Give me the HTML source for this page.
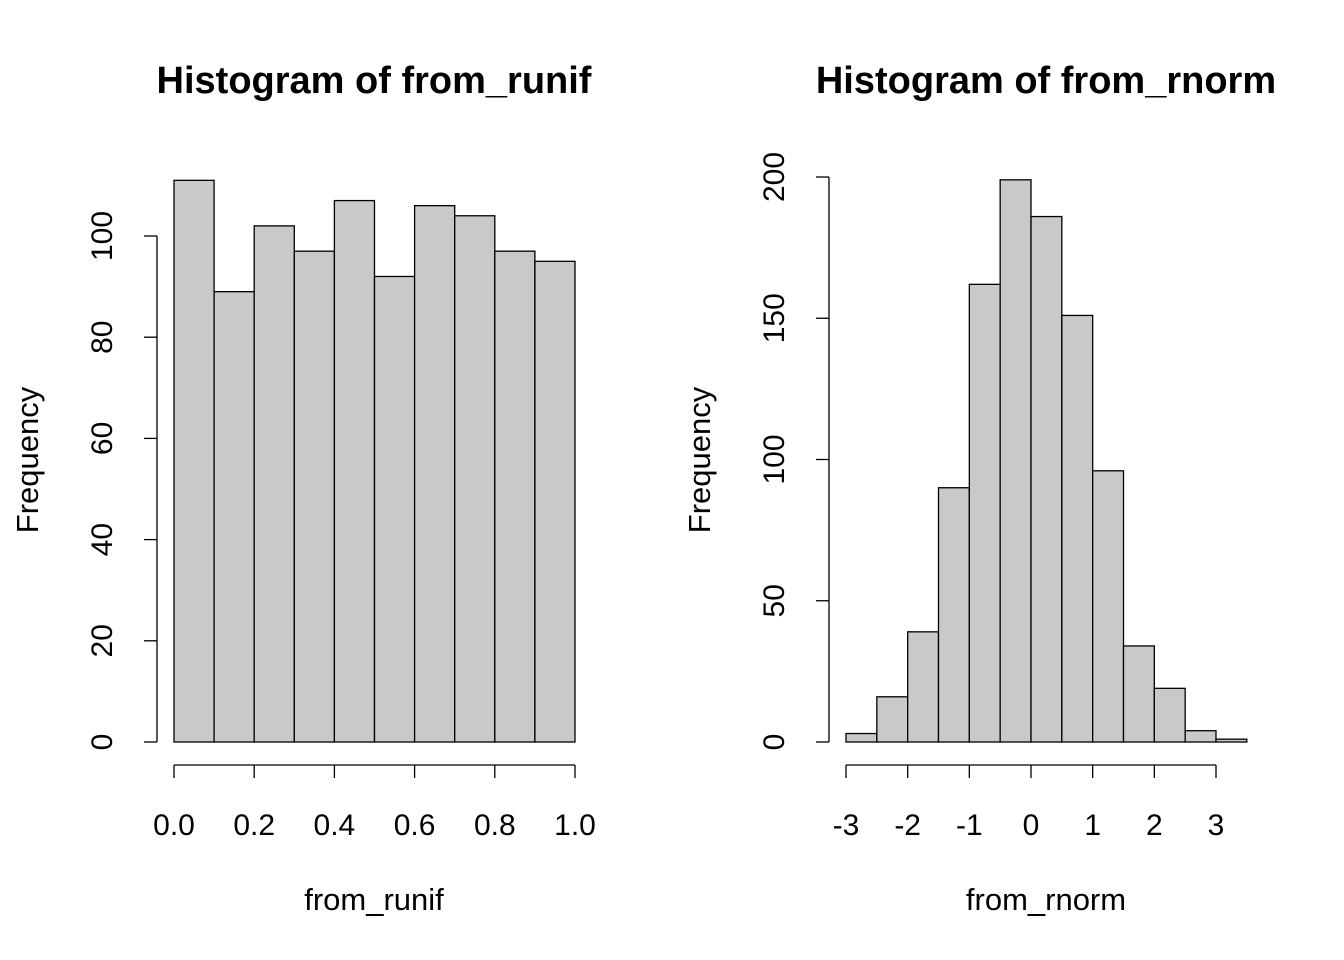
<!DOCTYPE html>
<html><head><meta charset="utf-8"><style>
html,body{margin:0;padding:0;background:#fff;}
svg{display:block;font-family:"Liberation Sans",Arial,sans-serif;}
</style></head><body>
<svg id="c" width="1344" height="960" viewBox="0 0 1344 960"></svg>
<script>
const unifCounts = [111, 89, 102, 97, 107, 92, 106, 104, 97, 95];
const unifBreaks = [0, 0.1, 0.2, 0.3, 0.4, 0.5, 0.6, 0.7, 0.8, 0.9, 1.0];
const unifXTicks = ["0.0","0.2","0.4","0.6","0.8","1.0"];
const unifYTicks = [0, 20, 40, 60, 80, 100];
const normCounts = [3, 16, 39, 90, 162, 199, 186, 151, 96, 34, 19, 4, 1];
const normBreaks = [-3, -2.5, -2, -1.5, -1, -0.5, 0, 0.5, 1, 1.5, 2, 2.5, 3, 3.5];
const normXTicks = ["-3","-2","-1","0","1","2","3"];
const normYTicks = [0, 50, 100, 150, 200];

const NS = "http://www.w3.org/2000/svg";
const svg = document.getElementById('c');
function mk(tag, attrs, parent){
  const e = document.createElementNS(NS, tag);
  for (const k in attrs) e.setAttribute(k, attrs[k]);
  (parent||svg).appendChild(e);
  return e;
}

function panel(cfg){
  const g = mk('g', {});
  
  
  const sx = v => cfg.x0 + (v - cfg.xmin) * (cfg.x1 - cfg.x0) / (cfg.xmax - cfg.xmin);
  const sy = v => cfg.y0 - v * (cfg.y0 - cfg.y1) / cfg.ymax;
  cfg.counts.forEach((c, i) => {
    const xa = sx(cfg.breaks[i]), xb = sx(cfg.breaks[i+1]);
    const r = mk('rect', {x: xa, y: sy(c), width: xb - xa, height: sy(0) - sy(c), fill: '#c9c9c9', stroke: '#000', 'stroke-width': 1.3}, g);
    
    
  });
  const yax = mk('g', {}, g);
  
  
  const ax = cfg.yAxisX;
  mk('line', {x1: ax, x2: ax, y1: sy(cfg.yTicks[0]), y2: sy(cfg.yTicks[cfg.yTicks.length-1]), stroke: '#000', 'stroke-width': 1.3}, yax);
  cfg.yTicks.forEach(t => {
    const y = sy(t);
    mk('line', {x1: ax - 13, x2: ax, y1: y, y2: y, stroke: '#000', 'stroke-width': 1.3}, yax);
    const tx = mk('text', {x: 0, y: 0, 'font-size': 30, 'text-anchor': 'middle', transform: `translate(${ax - 45},${y}) rotate(-90)`}, yax);
    tx.textContent = t;
    
    
  });
  const xax = mk('g', {}, g);
  
  
  const xv = cfg.xTicks.map(Number);
  const ay = 765;
  mk('line', {x1: sx(xv[0]), x2: sx(xv[xv.length-1]), y1: ay, y2: ay, stroke: '#000', 'stroke-width': 1.3}, xax);
  cfg.xTicks.forEach((t, i) => {
    const x = sx(xv[i]);
    mk('line', {x1: x, x2: x, y1: ay, y2: ay + 13, stroke: '#000', 'stroke-width': 1.3}, xax);
    const tx = mk('text', {x: x, y: 835, 'font-size': 30, 'text-anchor': 'middle'}, xax);
    tx.textContent = t;
    
    
  });
  const title = mk('text', {x: cfg.cx, y: 93, 'font-size': 38, 'font-weight': 'bold', 'text-anchor': 'middle'}, g);
  title.textContent = cfg.title;
  
  
  const xl = mk('text', {x: cfg.cx, y: 910, 'font-size': 31, 'text-anchor': 'middle'}, g);
  xl.textContent = cfg.xlab;
  
  
  const yl = mk('text', {x: 0, y: 0, 'font-size': 31, 'text-anchor': 'middle', transform: `translate(${cfg.ylabX},460) rotate(-90)`}, g);
  yl.textContent = 'Frequency';
  
  
}

panel({name:'runif-histogram', counts:unifCounts, breaks:unifBreaks, xTicks:unifXTicks, yTicks:unifYTicks,
  xmin:0, xmax:1, x0:174, x1:575, ymax:100, y0:742, y1:236, yAxisX:157,
  cx:374, title:'Histogram of from_runif', xlab:'from_runif', ylabX:38});
panel({name:'rnorm-histogram', counts:normCounts, breaks:normBreaks, xTicks:normXTicks, yTicks:normYTicks,
  xmin:-3, xmax:3, x0:846, x1:1216, ymax:200, y0:742, y1:177, yAxisX:829,
  cx:1046, title:'Histogram of from_rnorm', xlab:'from_rnorm', ylabX:710});
</script>
</body></html>
